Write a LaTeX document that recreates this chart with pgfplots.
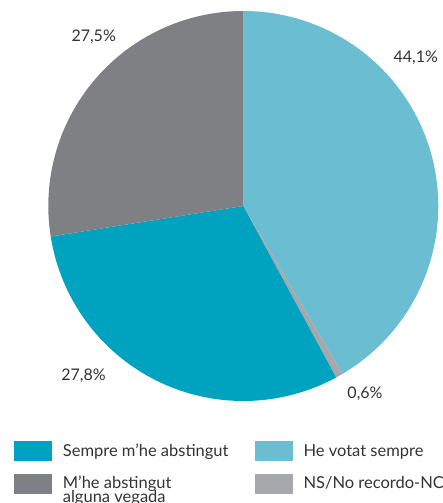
\documentclass[border=0pt]{standalone}
\usepackage{pgfplots}
\pgfplotsset{compat=1.18}
\usepgfplotslibrary{polar}
\usepackage{fontspec}
\setmainfont{Lato}
\definecolor{cTeal}{HTML}{00A3BF}
\definecolor{cLight}{HTML}{6BBED2}
\definecolor{cDark}{HTML}{7F8084}
\definecolor{cGrey}{HTML}{A7A8AC}
\definecolor{cText}{HTML}{333333}
% slice sizes as drawn (percent), clockwise from 12 o'clock
\def\vA{41.5}  % He votat sempre
\def\vB{0.6}   % NS/No recordo-NC
\def\vC{30.4}  % Sempre m'he abstingut
\def\vD{27.5}  % M'he abstingut alguna vegada
\pgfmathsetmacro\aA{90}
\pgfmathsetmacro\aB{\aA-3.6*\vA}
\pgfmathsetmacro\aC{\aB-3.6*\vB}
\pgfmathsetmacro\aD{\aC-3.6*\vC}
\pgfmathsetmacro\aE{\aD-3.6*\vD}
\begin{document}
\begin{tikzpicture}[x=1pt,y=1pt]
\useasboundingbox (0,0) rectangle (443,503);
\begin{polaraxis}[
  at={(243.3pt,297pt)}, anchor=origin,
  scale only axis, width=390pt, height=390pt,
  hide axis, ymin=0, ymax=1, clip=false]
\addplot[fill=cLight, draw=none, domain=\aB:\aA, samples=120] {1} -- (axis cs:0,0) -- cycle;
\addplot[fill=cGrey, draw=none, domain=\aC:\aB, samples=5] {1} -- (axis cs:0,0) -- cycle;
\addplot[fill=cTeal, draw=none, domain=\aD:\aC, samples=120] {1} -- (axis cs:0,0) -- cycle;
\addplot[fill=cDark, draw=none, domain=\aE:\aD, samples=120] {1} -- (axis cs:0,0) -- cycle;
\end{polaraxis}
\begin{scope}[every node/.style={font=\fontsize{16}{18}\selectfont, text=cText, inner sep=0pt}]
\node[anchor=base] at (415.8,440.7) {44,1\%};
\node[anchor=base] at (93.7,461.3) {27,5\%};
\node[anchor=base] at (83.5,122) {27,8\%};
\node[anchor=base] at (365,104) {0,6\%};
\end{scope}
\fill[cTeal] (14,42.3) rectangle (52,62);
\fill[cDark] (14,9) rectangle (52,29);
\fill[cLight] (255,42.3) rectangle (293,62);
\fill[cGrey] (255,9) rectangle (293,29);
\begin{scope}[every node/.style={font=\fontsize{16.5}{14}\selectfont, text=cText, inner sep=0pt, anchor=base west}]
\node at (62.7,46.3) {Sempre m’he abstingut};
\node at (303.3,46.3) {He votat sempre};
\node at (303.3,14.7) {NS/No recordo-NC};
\node at (62.7,14.7) {M’he abstingut};
\node at (62.7,1) {alguna vegada};
\end{scope}
\end{tikzpicture}
\end{document}
